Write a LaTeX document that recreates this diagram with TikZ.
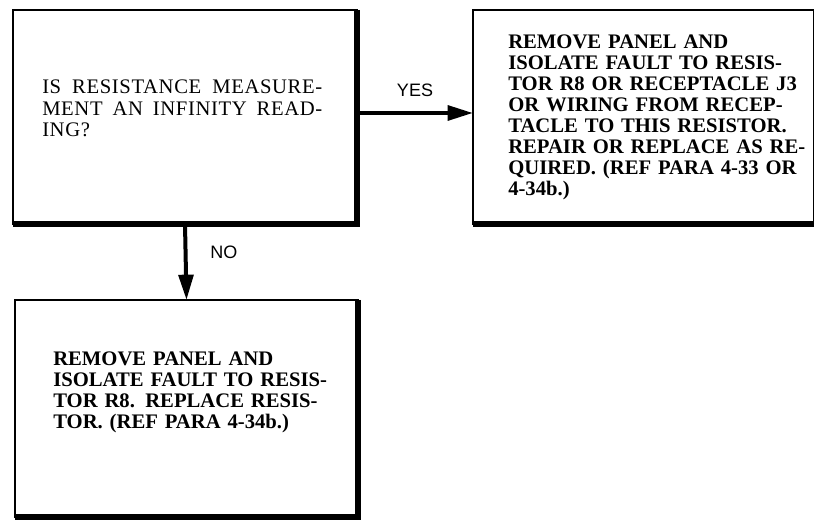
\documentclass[tikz,border=0pt]{standalone}
\usepackage{fontspec}
\setmainfont{Liberation Serif}
\setsansfont{Liberation Sans}
\newfontfamily\spacedserif[LetterSpace=3]{Liberation Serif}
\usetikzlibrary{arrows.meta, fit}

\tikzset{
    box/.style={draw, line width=1.2pt, inner sep=0pt, outer sep=0pt},
    heavy edge/.style={line width=5pt},
    flow/.style={line width=3pt, -{Triangle[length=19pt, width=11pt]}},
    answer/.style={inner sep=0pt, font=\sffamily\fontsize{13.5}{15}\selectfont},
    question/.style={anchor=north west, inner sep=0pt, text width=210pt, align=justify,
        font=\spacedserif\fontsize{15.5}{16}\selectfont},
    action/.style={anchor=north west, inner sep=0pt, text width=240pt, align=left,
        font=\bfseries\fontsize{15.5}{15.75}\selectfont}
}

\begin{document}
\begin{tikzpicture}[x=0.75pt, y=-0.75pt]
        \useasboundingbox (0,0) rectangle (814,523);

        % boxes
        \node[box, fit={(13,10) (357,224)}] (query) {};
        \node[box, fit={(473,10) (816,224)}] (repair) {};
        \node[box, fit={(15,300) (358,517)}] (replace) {};

        % heavy right and bottom edges
        \foreach \b in {query, repair, replace}
            \draw[heavy edge] (\b.north east) -- (\b.south east) -- (\b.south west);

        % box texts
        \node[question] (querytext) at (42,80)
            {IS RESISTANCE MEASURE-\linebreak MENT AN INFINITY READ-\linebreak ING?};
        \node[action] (repairtext) at (508,35)
            {REMOVE PANEL AND\\ ISOLATE FAULT TO RESIS-\\ TOR R8 OR RECEPTACLE J3\\
             OR WIRING FROM RECEP-\\ TACLE TO THIS RESISTOR.\\ REPAIR OR REPLACE AS RE-\\
             QUIRED. (REF PARA 4-33 OR\\ 4-34b.)};
        \node[action] (replacetext) at (53,352)
            {REMOVE PANEL AND\\ ISOLATE FAULT TO RESIS-\\ TOR R8. REPLACE RESIS-\\
             TOR. (REF PARA 4-34b.)};

        % yes / no branches
        \draw[flow] ([yshift=3pt]query.east) -- ([yshift=3pt]repair.west)
            node[answer, midway, above=10.5pt] (yes) {YES};
        \draw[flow] (query.south) -- (replace.north)
            node[answer, midway, right=17pt, yshift=7.5pt] (no) {NO};
    \end{tikzpicture}
\end{document}
